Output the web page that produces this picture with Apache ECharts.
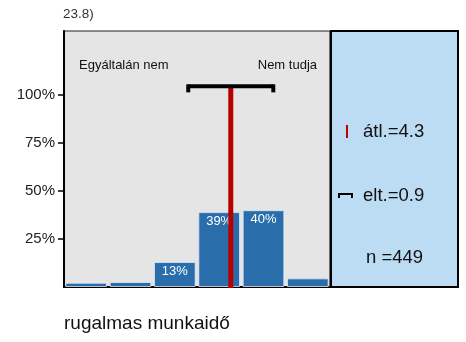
<!DOCTYPE html>
<html>
<head>
<meta charset="utf-8">
<script src="https://cdn.jsdelivr.net/npm/echarts@6/dist/echarts.min.js"></script>
<style>
  html, body { margin: 0; padding: 0; background: #fff; }
  #chart { width: 466px; height: 342px; }
</style>
</head>
<body>
<div id="chart"></div>
<script>
// Response categories (1..5 scale plus "don't know") and their shares in percent
const categories = ['1', '2', '3', '4', '5', 'Nem tudja'];
const shares = [2.2, 2.6, 13, 39, 40, 4.5];
const shareLabels = ['', '', '13%', '39%', '40%', ''];
const yTicks = [25, 50, 75, 100];

// Summary statistics
const meanValue = 4.3;
const sdValue = 0.9;
const nValue = 449;
const whiskerLevel = 104.5;

const titleText = '23.8)';
const itemText = 'rugalmas munkaidő';
const lowEndText = 'Egyáltalán nem';
const dkText = 'Nem tudja';

const chart = echarts.init(document.getElementById('chart'), null, { renderer: 'canvas' });

const FONT = 'Liberation Sans, Arial, sans-serif';

chart.setOption({
  animation: false,
  backgroundColor: '#ffffff',
  grid: {
    left: 64, right: 136, top: 31, bottom: 55,
    show: true, backgroundColor: '#e5e5e5',
    borderColor: '#222', borderWidth: 1.2
  },
  xAxis: [
    {
      type: 'category', data: categories,
      axisLine: { show: true, lineStyle: { color: '#000', width: 2 } },
      axisTick: { show: false }, axisLabel: { show: false },
      splitLine: { show: false }
    },
    {
      // hidden scale carrying the mean / spread overlay
      type: 'value', min: 0.77, max: 6.4, show: false
    }
  ],
  yAxis: {
    type: 'value', min: 0, max: 133.33,
    axisLine: { show: true, lineStyle: { color: '#000', width: 2 } },
    axisTick: { show: true, length: 6, customValues: yTicks,
      lineStyle: { color: '#000', width: 1.5 } },
    axisLabel: { show: true, customValues: yTicks, margin: 9,
      formatter: v => v + '%', fontFamily: FONT, fontSize: 15, color: '#222' },
    splitLine: { show: false }
  },
  series: [
    {
      type: 'bar', data: shares, xAxisIndex: 0,
      barCategoryGap: '6%',
      itemStyle: { color: '#2a6dab', borderColor: 'rgba(220,232,245,0.8)', borderWidth: 1 },
      label: {
        show: true, position: 'insideTop', distance: 3,
        formatter: p => shareLabels[p.dataIndex],
        color: '#fff', fontFamily: FONT, fontSize: 13
      },
      z: 2
    },
    {
      type: 'custom', xAxisIndex: 1, yAxisIndex: 0,
      data: [[meanValue, sdValue, whiskerLevel]],
      z: 3,
      renderItem: function (params, api) {
        const m = api.value(0), s = api.value(1), h = api.value(2);
        const base = api.coord([m, 0]);
        const top = api.coord([m, h]);
        const lft = api.coord([m - s, h]);
        const rgt = api.coord([m + s, h]);
        return {
          type: 'group',
          children: [
            { type: 'line', shape: { x1: base[0], y1: base[1] + 1, x2: top[0], y2: top[1] },
              style: { stroke: '#b80000', lineWidth: 5 } },
            { type: 'line', shape: { x1: lft[0], y1: lft[1], x2: rgt[0], y2: rgt[1] },
              style: { stroke: '#000', lineWidth: 4 } },
            { type: 'rect', shape: { x: lft[0] - 2, y: lft[1] - 2, width: 4, height: 8 },
              style: { fill: '#000' } },
            { type: 'rect', shape: { x: rgt[0] - 2, y: rgt[1] - 2, width: 4, height: 8 },
              style: { fill: '#000' } }
          ]
        };
      }
    }
  ],
  graphic: [
    { type: 'text', left: 63, top: 7,
      style: { text: titleText, font: '13.5px ' + FONT, fill: '#333' } },
    { type: 'text', x: 79, y: 65,
      style: { text: lowEndText, font: '13px ' + FONT, fill: '#111', textVerticalAlign: 'middle' } },
    { type: 'text', x: 317, y: 65,
      style: { text: dkText, font: '13px ' + FONT, fill: '#111', textAlign: 'right', textVerticalAlign: 'middle' } },
    // statistics panel
    { type: 'rect', shape: { x: 331, y: 31, width: 127, height: 256 },
      style: { fill: '#bcdcf4', stroke: '#000', lineWidth: 2 } },
    { type: 'line', shape: { x1: 347, y1: 125, x2: 347, y2: 138 },
      style: { stroke: '#c00000', lineWidth: 2 } },
    { type: 'text', x: 363, y: 132,
      style: { text: 'átl.=' + meanValue, font: '18.5px ' + FONT, fill: '#111', textVerticalAlign: 'middle' } },
    { type: 'polyline', shape: { points: [[339, 198], [339, 194], [352, 194], [352, 198]] },
      style: { stroke: '#000', lineWidth: 2, fill: null } },
    { type: 'text', x: 363, y: 196,
      style: { text: 'elt.=' + sdValue, font: '18.5px ' + FONT, fill: '#111', textVerticalAlign: 'middle' } },
    { type: 'text', x: 366, y: 258,
      style: { text: 'n =' + nValue, font: '18.5px ' + FONT, fill: '#111', textVerticalAlign: 'middle' } },
    { type: 'text', x: 64, y: 324,
      style: { text: itemText, font: '19px ' + FONT, fill: '#111', textVerticalAlign: 'middle' } }
  ]
});
</script>
</body>
</html>
